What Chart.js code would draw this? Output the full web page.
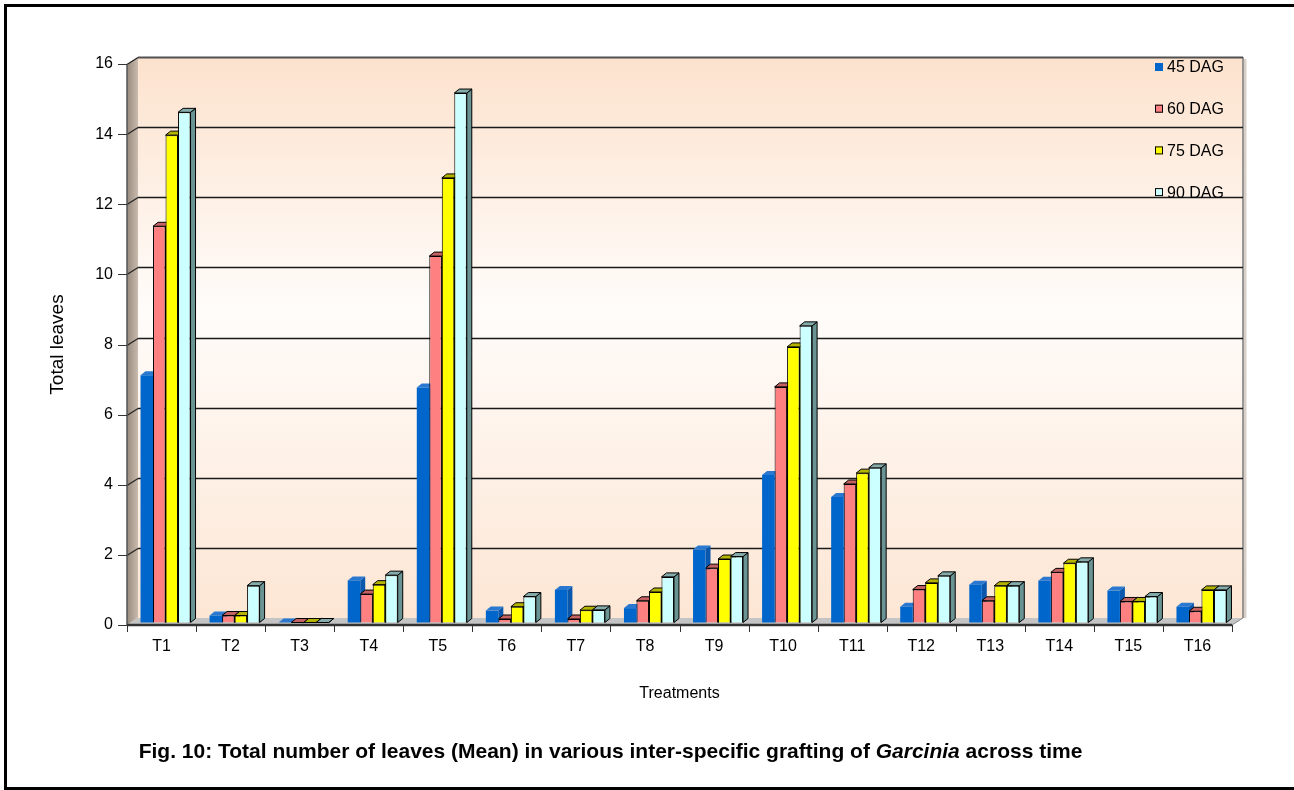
<!DOCTYPE html>
<html>
<head>
<meta charset="utf-8">
<script src="https://cdn.jsdelivr.net/npm/chart.js@4.4.1/dist/chart.umd.min.js"></script>
<style>
  html, body { margin: 0; padding: 0; background: #ffffff; overflow: hidden; }
  #wrap { position: relative; width: 1294px; height: 790px; }
  #frame {
    position: absolute; left: 4px; top: 4px; width: 1400px; height: 786px;
    box-sizing: border-box; border: 3px solid #000; border-right: none;
  }
  #chart { position: absolute; left: 0; top: 0; }
  #caption {
    position: absolute; left: 0; top: 738px; width: 1221px; text-align: center;
    font: bold 21px "Liberation Sans", Arial, sans-serif; color: #000; line-height: 26px;
  }
</style>
</head>
<body>
<div id="wrap">
  <div id="frame"></div>
  <canvas id="chart" width="1294" height="790"></canvas>
  <div id="caption">Fig. 10: Total number of leaves (Mean) in various inter-specific grafting of <i>Garcinia</i> across time</div>
</div>
<script>
// Treatments and mean leaf counts at each observation date
const categories = ['T1','T2','T3','T4','T5','T6','T7','T8','T9','T10','T11','T12','T13','T14','T15','T16'];
const seriesNames = ['45 DAG', '60 DAG', '75 DAG', '90 DAG'];
const dag45 = [7.05, 0.2, 0, 1.2, 6.7, 0.34, 0.93, 0.41, 2.08, 4.21, 3.58, 0.45, 1.08, 1.19, 0.91, 0.45];
const dag60 = [11.3, 0.2, 0, 0.81, 10.45, 0.1, 0.1, 0.62, 1.55, 6.72, 3.95, 0.94, 0.62, 1.43, 0.6, 0.32];
const dag75 = [13.9, 0.2, 0, 1.08, 12.68, 0.45, 0.35, 0.87, 1.81, 7.86, 4.26, 1.13, 1.05, 1.69, 0.6, 0.93];
const dag90 = [14.55, 1.05, 0, 1.35, 15.1, 0.74, 0.36, 1.3, 1.88, 8.46, 4.41, 1.33, 1.05, 1.73, 0.74, 0.93];
const yTicks = [0, 2, 4, 6, 8, 10, 12, 14, 16];

// front / top / side face colours for each series
const faceColors = [
  { front: '#0066CC', top: '#2a78d0', side: '#0a58ad', edge: null },
  { front: '#FF8080', top: '#c46262', side: '#9c4c4c', edge: '#000000' },
  { front: '#FFFF00', top: '#b4b400', side: '#7e7e00', edge: '#000000' },
  { front: '#CCFFFF', top: '#86abab', side: '#6a9494', edge: '#000000' }
];

const FONT = '"Liberation Sans", Arial, sans-serif';
const DEPTH_X = 11, DEPTH_Y = 7;      // wall depth
const BAR_DX = 5, BAR_DY = 4;         // bar box depth
const SHIFT_X = 4, SHIFT_Y = -2.5;    // bars sit mid-way into the floor

const walls3d = {
  id: 'walls3d',
  beforeDatasetsDraw(chart) {
    const { ctx, chartArea: a, scales: { y } } = chart;
    const L = a.left, R = a.right, T = a.top, B = a.bottom;
    ctx.save();
    // back wall
    const g = ctx.createLinearGradient(0, T - DEPTH_Y, 0, B - DEPTH_Y);
    g.addColorStop(0, '#fce2cd');
    g.addColorStop(0.45, '#fffcfa');
    g.addColorStop(1, '#fde6d4');
    ctx.fillStyle = g;
    ctx.fillRect(L + DEPTH_X, T - DEPTH_Y, R - L, B - T);
    // left wall
    const lg = ctx.createLinearGradient(L, 0, L + DEPTH_X, 0);
    lg.addColorStop(0, '#978a7e');
    lg.addColorStop(1, '#c9bbad');
    ctx.fillStyle = lg;
    ctx.beginPath();
    ctx.moveTo(L, T); ctx.lineTo(L + DEPTH_X, T - DEPTH_Y);
    ctx.lineTo(L + DEPTH_X, B - DEPTH_Y); ctx.lineTo(L, B);
    ctx.closePath(); ctx.fill();
    // floor
    ctx.fillStyle = '#c4c4c4';
    ctx.beginPath();
    ctx.moveTo(L, B); ctx.lineTo(L + DEPTH_X, B - DEPTH_Y);
    ctx.lineTo(R + DEPTH_X, B - DEPTH_Y); ctx.lineTo(R, B);
    ctx.closePath(); ctx.fill();
    ctx.strokeStyle = '#8a8a8a'; ctx.lineWidth = 1;
    ctx.beginPath(); ctx.moveTo(R, B); ctx.lineTo(R + DEPTH_X, B - DEPTH_Y); ctx.stroke();
    // right edge of back wall
    ctx.strokeStyle = '#d8cfc8'; ctx.lineWidth = 3;
    ctx.beginPath(); ctx.moveTo(R + DEPTH_X + 2, T - DEPTH_Y + 2); ctx.lineTo(R + DEPTH_X + 2, B - DEPTH_Y); ctx.stroke();
    ctx.strokeStyle = '#7a7a7a'; ctx.lineWidth = 1.5;
    ctx.beginPath(); ctx.moveTo(R + DEPTH_X, T - DEPTH_Y); ctx.lineTo(R + DEPTH_X, B - DEPTH_Y); ctx.stroke();
    // gridlines on the back wall with their diagonal on the left wall
    yTicks.forEach(v => {
      if (v === 0) return;
      const py = Math.round(y.getPixelForValue(v)) + 0.5;
      ctx.strokeStyle = v === 16 ? '#505050' : '#1a1a1a';
      ctx.lineWidth = v === 16 ? 2 : 1.3;
      ctx.beginPath();
      ctx.moveTo(L + DEPTH_X, py - DEPTH_Y);
      ctx.lineTo(R + DEPTH_X, py - DEPTH_Y);
      ctx.stroke();
      ctx.lineWidth = 1.2;
      ctx.strokeStyle = '#222';
      ctx.beginPath();
      ctx.moveTo(L, py); ctx.lineTo(L + DEPTH_X, py - DEPTH_Y);
      ctx.stroke();
    });
    // left wall front edge and y tick marks
    ctx.strokeStyle = '#555'; ctx.lineWidth = 1.5;
    ctx.beginPath(); ctx.moveTo(L, T); ctx.lineTo(L, B); ctx.stroke();
    ctx.strokeStyle = '#333'; ctx.lineWidth = 1;
    yTicks.forEach(v => {
      const py = Math.round(y.getPixelForValue(v)) + 0.5;
      ctx.beginPath(); ctx.moveTo(L - 9, py); ctx.lineTo(L, py); ctx.stroke();
    });
    // x axis line and category ticks
    ctx.strokeStyle = '#333'; ctx.lineWidth = 2.5;
    ctx.beginPath(); ctx.moveTo(L, B); ctx.lineTo(R, B); ctx.stroke();
    ctx.lineWidth = 1;
    const n = categories.length;
    for (let k = 0; k <= n; k++) {
      const px = Math.round(L + (R - L) * k / n) + 0.5;
      ctx.beginPath(); ctx.moveTo(px, B); ctx.lineTo(px, B + 7); ctx.stroke();
    }
    ctx.restore();

    // bars: move into the floor, then draw tops and sides before the fronts
    ctx.save();
    ctx.translate(SHIFT_X, SHIFT_Y);
    chart.data.datasets.forEach((ds, di) => {
      const meta = chart.getDatasetMeta(di);
      const c = faceColors[di];
      meta.data.forEach(bar => {
        const { x, y: top, base, width } = bar.getProps(['x', 'y', 'base', 'width'], true);
        const x1 = x - width / 2, x2 = x + width / 2;
        ctx.lineWidth = 1;
        ctx.lineJoin = 'miter';
        // side face
        ctx.fillStyle = c.side;
        ctx.beginPath();
        ctx.moveTo(x2, top); ctx.lineTo(x2 + BAR_DX, top - BAR_DY);
        ctx.lineTo(x2 + BAR_DX, base - BAR_DY); ctx.lineTo(x2, base);
        ctx.closePath(); ctx.fill();
        if (c.edge) { ctx.strokeStyle = c.edge; ctx.stroke(); }
        // top face
        ctx.fillStyle = c.top;
        ctx.beginPath();
        ctx.moveTo(x1, top); ctx.lineTo(x1 + BAR_DX, top - BAR_DY);
        ctx.lineTo(x2 + BAR_DX, top - BAR_DY); ctx.lineTo(x2, top);
        ctx.closePath(); ctx.fill();
        if (c.edge) { ctx.strokeStyle = c.edge; ctx.stroke(); }
      });
    });
  },
  afterDatasetsDraw(chart) {
    chart.ctx.restore();
  },
  afterDraw(chart) {
    // legend inside the plot, top right
    const { ctx, chartArea: a } = chart;
    ctx.save();
    ctx.font = '16px ' + FONT;
    ctx.textBaseline = 'middle';
    ctx.fillStyle = '#000';
    seriesNames.forEach((name, i) => {
      const yc = a.top + 3 + i * 41.7;
      const mx = a.right - 77;
      ctx.fillStyle = faceColors[i].front;
      ctx.fillRect(mx, yc - 4, 8, 8);
      if (faceColors[i].edge) {
        ctx.strokeStyle = '#000'; ctx.lineWidth = 1;
        ctx.strokeRect(mx + 0.5, yc - 3.5, 7, 7);
      }
      ctx.fillStyle = '#000';
      ctx.fillText(name, mx + 12, yc + 1);
    });
    ctx.restore();
  }
};

const series = [dag45, dag60, dag75, dag90];
const chart = new Chart(document.getElementById('chart'), {
  type: 'bar',
  data: {
    labels: categories,
    datasets: series.map((vals, i) => ({
      label: seriesNames[i],
      data: vals,
      backgroundColor: faceColors[i].front,
      borderColor: faceColors[i].edge || faceColors[i].front,
      borderWidth: faceColors[i].edge ? 1 : 0,
      borderSkipped: 'bottom',
      categoryPercentage: 0.724,
      barPercentage: 1.0,
      clip: false
    }))
  },
  options: {
    responsive: false,
    animation: false,
    devicePixelRatio: 1,
    layout: { padding: { left: 0, right: 62, top: 64, bottom: 55 } },
    plugins: { legend: { display: false }, tooltip: { enabled: false } },
    scales: {
      x: {
        grid: { display: false, drawTicks: false },
        border: { display: false },
        ticks: { color: '#000', font: { family: FONT, size: 16 }, padding: 12, maxRotation: 0 },
        title: { display: true, text: 'Treatments', color: '#000', font: { family: FONT, size: 16 }, padding: { top: 0, bottom: 32 } },
        afterFit(scale) { scale.height = 110; }
      },
      y: {
        min: 0, max: 16,
        grid: { display: false, drawTicks: false },
        border: { display: false },
        ticks: { stepSize: 2, color: '#000', font: { family: FONT, size: 16 }, padding: 14 },
        title: { display: true, text: 'Total leaves', color: '#000', font: { family: FONT, size: 19 }, padding: { top: 46, bottom: 0 } },
        afterFit(scale) { scale.width = 127; }
      }
    }
  },
  plugins: [walls3d]
});
</script>
</body>
</html>
